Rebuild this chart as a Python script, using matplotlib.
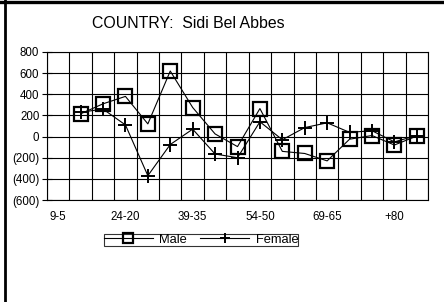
import matplotlib
matplotlib.use("Agg")
import matplotlib.pyplot as plt
from matplotlib.lines import Line2D
from matplotlib.ticker import FuncFormatter, FixedLocator
import numpy as np

plt.rcParams['font.family'] = ['Liberation Sans', 'DejaVu Sans']

# categories (age groups), only every 3rd label is shown on the chart
groupes = ["9-5", "14-10", "19-15", "24-20", "29-25", "34-30", "39-35", "44-40",
           "49-45", "54-50", "59-55", "64-60", "69-65", "74-70", "79-75", "+80", "ND"]

# values (first group has no point)
male = [np.nan, 215, 310, 380, 120, 620, 275, 25, -95, 265, -140, -160, -230, -25, 10, -80, 5]
female = [np.nan, 230, 260, 110, -370, -75, 70, -165, -200, 140, -30, 85, 130, 40, 55, -50, 10]

titre = "COUNTRY:  Sidi Bel Abbes"

x = np.arange(len(groupes))

fig = plt.figure(figsize=(4.44, 3.02), dpi=100)
fig.patch.set_facecolor("white")
ax = fig.add_axes([47/444, 1-200/302, (428-47)/444, (200-52)/302])

ax.plot(x, male, color="black", lw=0.8, marker="s", ms=10, mfc="none", mec="black", mew=1.6, label="Male")
ax.plot(x, female, color="black", lw=0.8, marker="+", ms=10, mec="black", mew=1.4, label="Female")

ax.set_xlim(-0.5, len(groupes)-0.5)
ax.set_ylim(-600, 800)
ax.set_yticks(np.arange(-600, 801, 200))
ax.yaxis.set_major_formatter(FuncFormatter(lambda v, p: "(%d)" % abs(v) if v < 0 else "%d" % v))

# labels every 3 categories, grid on category boundaries
ax.xaxis.set_major_locator(FixedLocator(x[::3]))
ax.set_xticklabels(groupes[::3])
ax.xaxis.set_minor_locator(FixedLocator(np.arange(-0.5, len(groupes), 1)))
ax.tick_params(axis="x", which="both", length=0, labelsize=8.3, pad=8)
ax.tick_params(axis="y", direction="inout", length=7, width=0.8, labelsize=8.3, pad=2)
ax.grid(which="minor", axis="x", color="black", lw=0.8)
ax.grid(which="major", axis="y", color="black", lw=0.8)
for s in ax.spines.values():
    s.set_linewidth(0.8)
    s.set_color("black")

fig.text(188/444, 1-24/302, titre, ha="center", va="center", fontsize=11.4)

leg = fig.legend(loc="center", bbox_to_anchor=(201/444, 1-240/302), ncol=2, fontsize=9.3,
                 frameon=True, fancybox=False, borderpad=0.0, handlelength=3.8,
                 handletextpad=0.5, columnspacing=1.0, borderaxespad=0)
leg.get_frame().set_edgecolor("black")
leg.get_frame().set_linewidth(0.8)
for h in leg.legend_handles:
    h.set_markersize(7)

# cadre
fig.add_artist(Line2D([0, 1], [1-1.5/302, 1-1.5/302], color="black", lw=2.4))
fig.add_artist(Line2D([5/444, 5/444], [0, 1], color="black", lw=2.0))

fig.savefig("out.png", dpi=100)
